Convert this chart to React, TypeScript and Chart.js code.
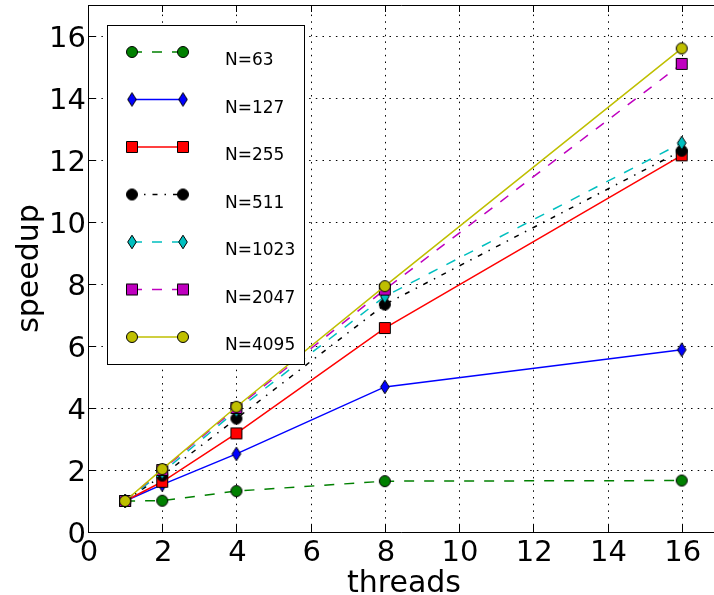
import React, { useEffect, useRef } from "react";
import { Chart, registerables } from "chart.js";

Chart.register(...registerables);

const threads = [1, 2, 4, 8, 16];
const n63 = [1.0, 1.01, 1.32, 1.64, 1.66];
const n127 = [1.0, 1.53, 2.52, 4.68, 5.88];
const n255 = [1.0, 1.62, 3.18, 6.58, 12.15];
const n511 = [1.0, 1.82, 3.66, 7.34, 12.3];
const n1023 = [1.0, 1.92, 3.92, 7.6, 12.55];
const n2047 = [1.0, 2.0, 4.0, 7.82, 15.1];
const n4095 = [1.0, 2.03, 4.04, 7.93, 15.6];

const labels = ["N=63", "N=127", "N=255", "N=511", "N=1023", "N=2047", "N=4095"];
const seriesValues = [n63, n127, n255, n511, n1023, n2047, n4095];
const colors = ["#008000", "#0000ff", "#ff0000", "#000000", "#00bfbf", "#bf00bf", "#bfbf00"];
const shapes = ["circle", "diamond", "square", "circle", "diamond", "square", "circle"];
const dashes: number[][] = [[10, 10], [], [], [5, 7, 1.5, 7], [10, 10], [10, 10], []];

const xTicks = [0, 2, 4, 6, 8, 10, 12, 14, 16];
const yTicks = [0, 2, 4, 6, 8, 10, 12, 14, 16];
const xTitle = "threads";
const yTitle = "speedup";

const FONT = "'DejaVu Sans', sans-serif";

function markerCanvas(shape: string, color: string): HTMLCanvasElement {
  const c = document.createElement("canvas");
  c.width = 18;
  c.height = 18;
  const g = c.getContext("2d")!;
  g.fillStyle = color;
  g.strokeStyle = "#000";
  g.lineWidth = 1;
  g.beginPath();
  if (shape === "circle") {
    g.arc(9, 9, 5.5, 0, Math.PI * 2);
  } else if (shape === "square") {
    g.rect(3.5, 3.5, 11, 11);
  } else {
    g.moveTo(9, 2.2);
    g.lineTo(13.3, 9);
    g.lineTo(9, 15.8);
    g.lineTo(4.7, 9);
    g.closePath();
  }
  g.fill();
  g.stroke();
  return c;
}

export default function App() {
  const ref = useRef<HTMLCanvasElement>(null);

  useEffect(() => {
    const canvas = ref.current!;
    const markers = shapes.map((s, i) => markerCanvas(s, colors[i]));

    const gridPlugin = {
      id: "mplGrid",
      beforeDatasetsDraw(chart: any) {
        const { ctx, chartArea } = chart;
        const xs = chart.scales.x;
        const ys = chart.scales.y;
        const { left, right, top, bottom } = chartArea;
        ctx.save();
        ctx.strokeStyle = "#000";
        ctx.lineWidth = 1;
        ctx.setLineDash([1.5, 5.2]);
        xTicks.forEach((v) => {
          if (v === 0) return;
          const px = Math.round(xs.getPixelForValue(v)) + 0.5;
          ctx.beginPath();
          ctx.moveTo(px, bottom);
          ctx.lineTo(px, top);
          ctx.stroke();
        });
        yTicks.forEach((v) => {
          if (v === 0) return;
          const py = Math.round(ys.getPixelForValue(v)) + 0.5;
          ctx.beginPath();
          ctx.moveTo(left, py);
          ctx.lineTo(right, py);
          ctx.stroke();
        });
        ctx.setLineDash([]);
        const tl = 7;
        xTicks.forEach((v) => {
          const px = Math.round(xs.getPixelForValue(v)) + 0.5;
          ctx.beginPath();
          ctx.moveTo(px, bottom);
          ctx.lineTo(px, bottom - tl);
          ctx.moveTo(px, top);
          ctx.lineTo(px, top + tl);
          ctx.stroke();
        });
        yTicks.forEach((v) => {
          const py = Math.round(ys.getPixelForValue(v)) + 0.5;
          ctx.beginPath();
          ctx.moveTo(left, py);
          ctx.lineTo(left + tl, py);
          ctx.stroke();
        });
        ctx.beginPath();
        ctx.moveTo(right + 5, Math.round(top) + 0.5);
        ctx.lineTo(Math.round(left) + 0.5, Math.round(top) + 0.5);
        ctx.lineTo(Math.round(left) + 0.5, Math.round(bottom) + 0.5);
        ctx.lineTo(right + 5, Math.round(bottom) + 0.5);
        ctx.stroke();

        // tick labels
        ctx.fillStyle = "#000";
        ctx.font = `29px ${FONT}`;
        ctx.textBaseline = "alphabetic";
        ctx.textAlign = "center";
        xTicks.forEach((v) => {
          const px = xs.getPixelForValue(v);
          ctx.fillText(String(v), px + 1, bottom + 29);
        });
        ctx.textAlign = "right";
        yTicks.forEach((v) => {
          const py = ys.getPixelForValue(v);
          ctx.fillText(String(v), left - 2, py + 10.5);
        });
        ctx.restore();
      },
      afterDraw(chart: any) {
        const { ctx, chartArea } = chart;
        ctx.save();
        ctx.fillStyle = "#000";
        ctx.font = `30px ${FONT}`;
        ctx.textAlign = "center";
        ctx.textBaseline = "alphabetic";
        ctx.fillText(xTitle, 404, 592);
        ctx.save();
        ctx.translate(38, (chartArea.top + chartArea.bottom) / 2);
        ctx.rotate(-Math.PI / 2);
        ctx.fillText(yTitle, 0, 0);
        ctx.restore();

        // legend
        ctx.fillStyle = "#fff";
        ctx.fillRect(107.5, 25.5, 197, 339);
        ctx.strokeStyle = "#000";
        ctx.lineWidth = 1;
        ctx.strokeRect(107.5, 25.5, 197, 339);
        labels.forEach((lab, i) => {
          const y = 52 + i * 47.5;
          ctx.save();
          ctx.strokeStyle = colors[i];
          ctx.lineWidth = 1.5;
          ctx.setLineDash(dashes[i]);
          ctx.beginPath();
          ctx.moveTo(132, y);
          ctx.lineTo(183, y);
          ctx.stroke();
          ctx.restore();
          const m = markers[i];
          ctx.drawImage(m, 132 - m.width / 2, y - m.height / 2);
          ctx.drawImage(m, 183 - m.width / 2, y - m.height / 2);
          ctx.fillStyle = "#000";
          ctx.font = `17px ${FONT}`;
          ctx.textAlign = "left";
          ctx.textBaseline = "alphabetic";
          ctx.fillText(lab, 225, y + 13);
        });
        ctx.restore();
      },
    };

    const datasets = seriesValues.map((vals, i) => ({
      label: labels[i],
      data: threads.map((t, j) => ({ x: t, y: vals[j] })),
      borderColor: colors[i],
      backgroundColor: colors[i],
      borderWidth: 1.5,
      borderDash: dashes[i],
      pointStyle: markers[i],
      pointRadius: 6,
      pointHoverRadius: 6,
      tension: 0,
      fill: false,
      order: seriesValues.length - 1 - i,
    }));

    const chart = new Chart(canvas, {
      type: "line",
      data: { datasets },
      options: {
        animation: false,
        responsive: false,
        events: [],
        layout: { autoPadding: false, padding: { top: 5, right: 0, left: 0, bottom: 0 } },
        plugins: {
          legend: { display: false },
          tooltip: { enabled: false },
        },
        scales: {
          x: {
            type: "linear",
            min: 0,
            max: 16.87,
            grid: { display: false, drawTicks: false },
            border: { display: false },
            ticks: { display: false },
            afterFit: (s: any) => {
              s.height = 63;
            },
          },
          y: {
            type: "linear",
            min: 0,
            max: 17,
            grid: { display: false, drawTicks: false },
            border: { display: false },
            ticks: { display: false },
            afterFit: (s: any) => {
              s.width = 88;
            },
          },
        },
      },
      plugins: [gridPlugin],
    } as any);

    return () => chart.destroy();
  }, []);

  return (
    <div style={{ position: "fixed", left: 0, top: 0, width: 714, height: 595, background: "#fff" }}>
      <canvas ref={ref} width={714} height={595} style={{ display: "block" }} />
    </div>
  );
}
